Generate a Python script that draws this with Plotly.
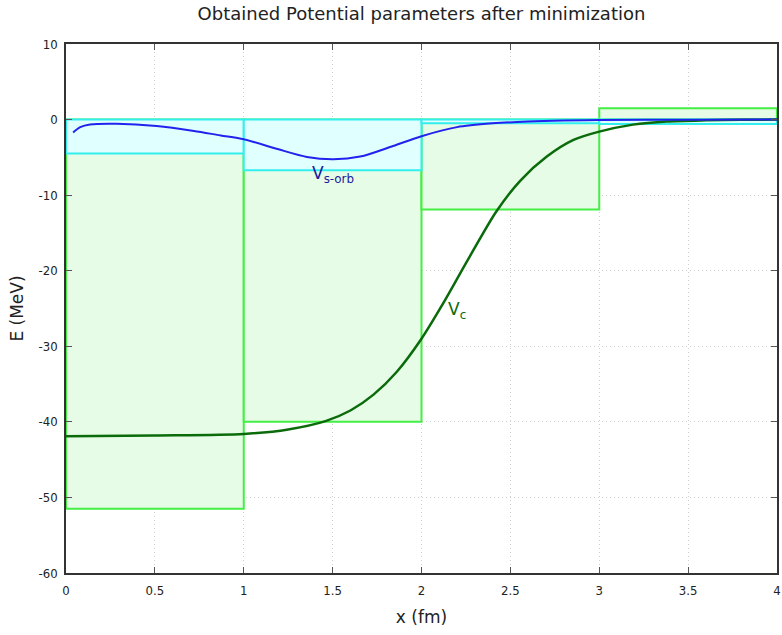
import plotly.graph_objects as go

# Step-function parameters (bins of width 1 fm)
bin_centers = [0.5, 1.5, 2.5, 3.5]
vc_steps = [-51.5, -40.0, -11.9, 1.5]
vso_steps = [-4.5, -6.7, -0.5, -0.6]

# Central potential curve
vc_x = [0, 0.5, 1.0, 1.25, 1.46, 1.6, 1.73, 1.86, 2.0, 2.125, 2.255, 2.42,
        2.555, 2.705, 2.855, 3.0, 3.19, 3.38, 3.6, 3.8, 4.0]
vc_y = [-41.9, -41.8, -41.6, -41.0, -39.9, -38.5, -36.4, -33.4, -29.0, -24.2,
        -18.8, -12.2, -8.1, -4.9, -2.7, -1.6, -0.67, -0.25, -0.1, -0.04, 0]

# Spin-orbit potential curve
vs_x = [0.04, 0.08, 0.135, 0.285, 0.51, 0.72, 0.87, 1.0, 1.19, 1.355, 1.505,
        1.655, 1.84, 2.0, 2.2, 2.4, 2.6, 2.8, 3.0, 3.5, 4.0]
vs_y = [-1.7, -1.0, -0.65, -0.55, -0.85, -1.5, -2.1, -2.6, -3.9, -4.95, -5.25,
        -4.9, -3.5, -2.2, -1.0, -0.5, -0.25, -0.12, -0.06, -0.02, 0]

x_ticks = [0, 0.5, 1, 1.5, 2, 2.5, 3, 3.5, 4]
y_ticks = [-60, -50, -40, -30, -20, -10, 0, 10]

fig = go.Figure()
fig.add_trace(go.Bar(x=bin_centers, y=vc_steps, width=1, base=0,
                     marker=dict(color="#e6fce6", line=dict(color="#44ee44", width=2)),
                     hoverinfo="skip"))
fig.add_trace(go.Bar(x=bin_centers, y=vso_steps, width=1, base=0,
                     marker=dict(color="#e0ffff", line=dict(color="#33eeee", width=2)),
                     hoverinfo="skip"))
fig.add_trace(go.Scatter(x=vc_x, y=vc_y, mode="lines",
                         line=dict(color="#0b6b0b", width=2.5, shape="spline", smoothing=0.8)))
fig.add_trace(go.Scatter(x=vs_x, y=vs_y, mode="lines",
                         line=dict(color="#2222ee", width=2, shape="spline", smoothing=0.8)))

fig.add_annotation(x=1.5, y=-7.3, text="V<sub>s-orb</sub>", showarrow=False,
                   font=dict(family="DejaVu Sans", size=17, color="#1a1aa0"), yanchor="middle")
fig.add_annotation(x=2.2, y=-25.3, text="V<sub>c</sub>", showarrow=False,
                   font=dict(family="DejaVu Sans", size=17, color="#0b6b0b"))

axis_common = dict(showline=True, linewidth=1.5, linecolor="#333333", mirror="ticks",
                   ticks="inside", ticklen=6, tickcolor="#555555",
                   showgrid=True, gridcolor="#cfcfcf", griddash="1px,3px", gridwidth=1,
                   zeroline=False, automargin=False,
                   tickfont=dict(family="DejaVu Sans Condensed, DejaVu Sans", size=13, color="#222222"))

fig.update_layout(
    width=782, height=635,
    margin=dict(l=66, r=5, t=44, b=62),
    paper_bgcolor="white", plot_bgcolor="white",
    barmode="overlay", showlegend=False,
    title=dict(text="Obtained Potential parameters after minimization", x=0.5, xref="paper",
               xanchor="center", y=0.979, yanchor="middle", pad=dict(t=0, b=0),
               font=dict(family="DejaVu Sans", size=18, color="#222222")),
    xaxis=dict(range=[0, 4], tickvals=x_ticks, ticktext=[f"{t:g}" for t in x_ticks],
               ticklabelstandoff=5,
               title=dict(text="x (fm)", font=dict(family="DejaVu Sans", size=17, color="#222222"), standoff=14),
               **axis_common),
    yaxis=dict(range=[-60, 10], tickvals=y_ticks, ticktext=[str(t) for t in y_ticks],
               ticklabelstandoff=4,
               title=dict(text="E (MeV)", font=dict(family="DejaVu Sans", size=17, color="#222222"), standoff=11),
               **axis_common),
)

# remove the default page margin and scrollbars so the figure fills the window exactly
fig.write_html("out.html",
               config={"displayModeBar": False},
               post_script="document.body.style.margin='0';"
                           "document.documentElement.style.overflow='hidden';"
                           "document.body.style.overflow='hidden';")
